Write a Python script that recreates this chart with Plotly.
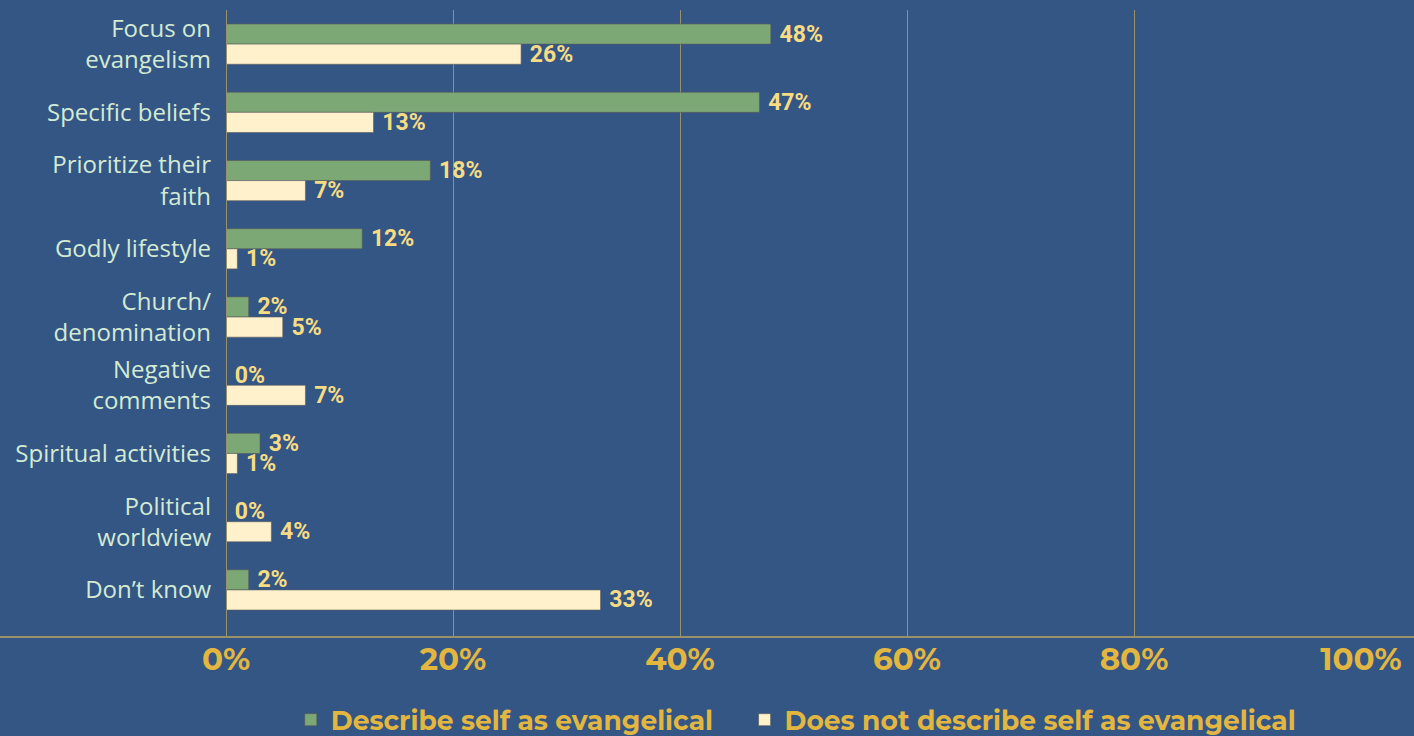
import plotly.graph_objects as go

categories = ["Focus on<br>evangelism", "Specific beliefs", "Prioritize their<br>faith", "Godly lifestyle",
              "Church/<br>denomination", "Negative<br>comments", "Spiritual activities",
              "Political<br>worldview", "Don’t know"]
evangelical = [48, 47, 18, 12, 2, 0, 3, 0, 2]
not_evangelical = [26, 13, 7, 1, 5, 7, 1, 4, 33]
series_names = ["Describe self as evangelical", "Does not describe self as evangelical"]
tick_vals = [0, 20, 40, 60, 80, 100]
tick_text = ["0%", "20%", "40%", "60%", "80%", "100%"]

BG = "#345684"
GREEN = "#7BA874"
CREAM = "#FFF1CB"
LABEL = "#F7DC83"
GOLD = "#E3B640"
GRID = "#9A9169"

fig = go.Figure()
for i, (name, vals, col) in enumerate([(series_names[0], evangelical, GREEN),
                                       (series_names[1], not_evangelical, CREAM)]):
    fig.add_trace(go.Bar(
        y=categories, x=vals, name=name + ("\u2003" if i == 0 else ""), orientation="h",
        marker=dict(color=col, line=dict(color="rgba(90,90,90,0.6)", width=1)),
        text=[f" {v}%" for v in vals], textposition="outside", cliponaxis=False,
        constraintext="none",
        textfont=dict(family="Roboto", size=23, color=LABEL, weight="bold"),
    ))

fig.update_layout(
    width=1414, height=736,
    paper_bgcolor=BG, plot_bgcolor=BG,
    margin=dict(l=226, r=53, t=10, b=99, autoexpand=False),
    barmode="group", bargap=0.41, bargroupgap=0.0,
    xaxis=dict(range=[0, 100], tickvals=tick_vals, ticktext=tick_text, automargin=False,
               showgrid=True, gridcolor=GRID, gridwidth=1, zeroline=False,
               showline=False, ticks="",
               tickfont=dict(family="Montserrat, Open Sans", size=31, color=GOLD, weight="bold"),
               ticklabelstandoff=1),
    yaxis=dict(categoryorder="array", categoryarray=categories, range=[8.69, -0.5],
               automargin=False,
               showgrid=False, zeroline=False, showline=False, ticks="",
               tickfont=dict(family="Open Sans", size=24, color="#D3EAD3"),
               ticklabelstandoff=14),
    showlegend=True,
    legend=dict(orientation="h", x=0.502, xanchor="center", y=-0.094, yanchor="top",
                font=dict(family="Montserrat, Open Sans", size=26.5, color=GOLD, weight="bold"),
                bgcolor="rgba(0,0,0,0)", itemwidth=30, traceorder="normal"),
    shapes=[
        dict(type="line", xref="paper", yref="paper", x0=-0.25, x1=1.1, y0=0, y1=0,
             line=dict(color=GRID, width=2), layer="above"),
        dict(type="line", xref="x", yref="paper", x0=0, x1=0, y0=0, y1=1,
             line=dict(color=GRID, width=2), layer="above"),
    ],
)

fig.write_html("out.html", config={"displayModeBar": False},
               post_script="document.body.style.margin='0';document.body.style.overflow='hidden';")
